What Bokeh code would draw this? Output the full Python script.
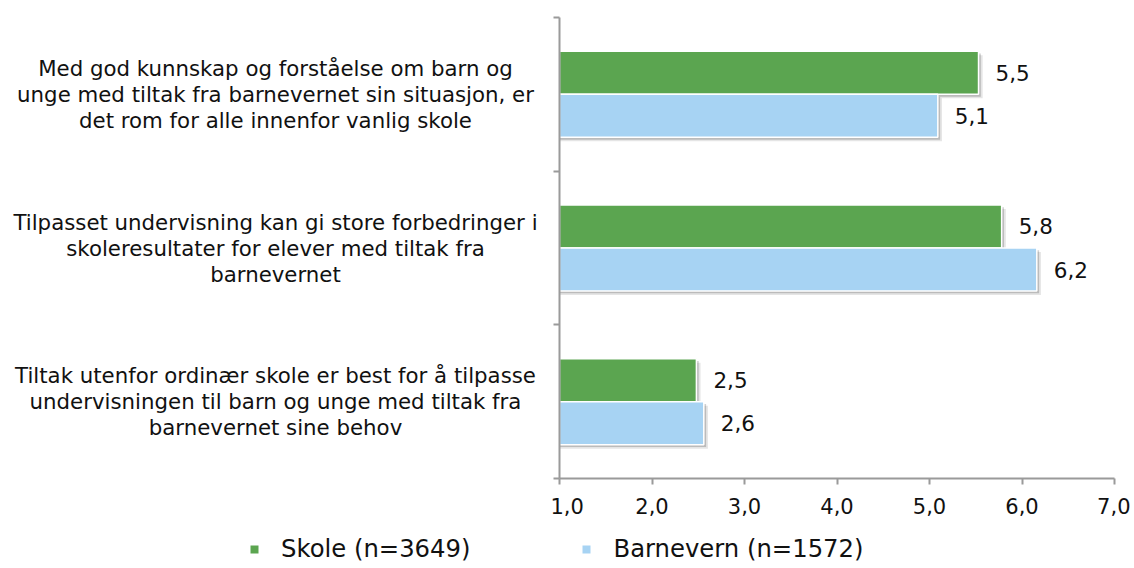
from bokeh.plotting import figure
from bokeh.layouts import row, column
from bokeh.models import (ColumnDataSource, FixedTicker, LabelSet, Legend, LegendItem, Range1d)
from bokeh.core.properties import value
from bokeh.embed import file_html
from bokeh.resources import INLINE

categories = [
    ["Med god kunnskap og forståelse om barn og",
     "unge med tiltak fra barnevernet sin situasjon, er",
     "det rom for alle innenfor vanlig skole"],
    ["Tilpasset undervisning kan gi store forbedringer i",
     "skoleresultater for elever med tiltak fra",
     "barnevernet"],
    ["Tiltak utenfor ordinær skole er best for å tilpasse",
     "undervisningen til barn og unge med tiltak fra",
     "barnevernet sine behov"],
]
skole = [5.53, 5.78, 2.48]
barnevern = [5.09, 6.16, 2.56]
series_names = ["Skole (n=3649)", "Barnevern (n=1572)"]
tick_values = [1, 2, 3, 4, 5, 6, 7]
tick_labels = ["1,0", "2,0", "3,0", "4,0", "5,0", "6,0", "7,0"]

GREEN = "#5BA550"
BLUE = "#A7D3F3"
AXIS = "#9A9A9A"
FONT = "DejaVu Sans"
TXT = "#111111"

W_TOTAL, H_TOTAL = 1130, 564
LW = 550            # width of left text panel
MW = W_TOTAL - LW   # width of main plot
TH = 524            # height of top row
LH = H_TOTAL - TH   # height of legend strip
TOP, BOTTOM = 17, 46

n = len(categories)
cat_y = [n - i - 0.5 for i in range(n)]
BH = 0.28
OFF = 0.14
yr = Range1d(0, n)

def fmt(v):
    return f"{v:.1f}".replace(".", ",")

def bare(fig):
    fig.outline_line_color = None
    fig.grid.grid_line_color = None
    fig.axis.visible = False
    fig.min_border = 0
    return fig

# ---- left panel with category texts ----
L = figure(width=LW, height=TH, output_backend="svg", toolbar_location=None,
           x_range=Range1d(0, LW), y_range=yr)
bare(L)
L.min_border_top = TOP
L.min_border_bottom = BOTTOM
xs, ys, ts, yo = [], [], [], []
for c, lines in zip(cat_y, categories):
    k = len(lines)
    for j, t in enumerate(lines):
        xs.append(275)
        ys.append(c)
        ts.append(t)
        yo.append((j - (k - 1) / 2) * 26)
L.text(x="x", y="y", text="t", y_offset="yo",
       source=ColumnDataSource(dict(x=xs, y=ys, t=ts, yo=yo)),
       text_align="center", text_baseline="middle",
       text_font=value(FONT), text_font_size=value("21.3px"), text_color=TXT)

# ---- main plot ----
src_s = ColumnDataSource(dict(y=[c + OFF for c in cat_y], right=skole,
                              lab=[fmt(v) for v in skole]))
src_b = ColumnDataSource(dict(y=[c - OFF for c in cat_y], right=barnevern,
                              lab=[fmt(v) for v in barnevern]))

p = figure(width=MW, height=TH, output_backend="svg", toolbar_location=None,
           x_range=Range1d(1, 7), y_range=yr)
p.min_border_left = 9
p.min_border_right = 16
p.min_border_top = TOP
p.min_border_bottom = BOTTOM
p.outline_line_color = None
p.grid.grid_line_color = None

for dx, dy, a in [(0.045, 0.026, 0.10), (0.025, 0.015, 0.18)]:
    p.hbar(y=[c + OFF - dy for c in cat_y], left=1, right=[v + dx for v in skole],
           height=BH, fill_color="black", fill_alpha=a, line_color=None)
    p.hbar(y=[c - OFF - dy for c in cat_y], left=1, right=[v + dx for v in barnevern],
           height=BH, fill_color="black", fill_alpha=a, line_color=None)

p.hbar(y="y", left=1, right="right", height=BH, source=src_s,
       fill_color=GREEN, line_color="white", line_width=1.5)
p.hbar(y="y", left=1, right="right", height=BH, source=src_b,
       fill_color=BLUE, line_color="white", line_width=1.5)

for src in (src_s, src_b):
    p.add_layout(LabelSet(x="right", y="y", text="lab", source=src, x_offset=17,
                          text_baseline="middle", text_align="left",
                          text_font=value(FONT), text_font_size=value("21.5px"),
                          text_color=TXT))

p.xaxis.ticker = FixedTicker(ticks=tick_values)
p.xaxis.major_label_overrides = {v: l for v, l in zip(tick_values, tick_labels)}
p.xaxis.major_label_text_font = FONT
p.xaxis.major_label_text_font_size = "21px"
p.xaxis.major_label_text_color = TXT
p.xaxis.major_label_standoff = 13
p.xaxis.major_tick_in = 0
p.xaxis.major_tick_out = 6
p.xaxis.minor_tick_line_color = None
p.xaxis.axis_line_color = AXIS
p.xaxis.major_tick_line_color = AXIS
p.xaxis.axis_line_width = 2
p.xaxis.major_tick_line_width = 2

p.yaxis.ticker = FixedTicker(ticks=list(range(n + 1)))
p.yaxis.major_label_overrides = {i: "" for i in range(n + 1)}
p.yaxis.major_label_standoff = 0
p.yaxis.major_tick_in = 0
p.yaxis.major_tick_out = 6
p.yaxis.minor_tick_line_color = None
p.yaxis.axis_line_color = AXIS
p.yaxis.major_tick_line_color = AXIS
p.yaxis.axis_line_width = 2
p.yaxis.major_tick_line_width = 2

# ---- legend strip ----
G = figure(width=W_TOTAL, height=LH, output_backend="svg", toolbar_location=None,
           x_range=Range1d(0, 1), y_range=Range1d(0, 1))
bare(G)
# legend-only renderers: their single bar lies far outside the strip's ranges
off_canvas = dict(y=[50], left=[40], right=[41])
g_s = G.hbar(y="y", left="left", right="right", height=0.1,
             source=ColumnDataSource(off_canvas), fill_color=GREEN, line_color=None)
g_b = G.hbar(y="y", left="left", right="right", height=0.1,
             source=ColumnDataSource(off_canvas), fill_color=BLUE, line_color=None)
legend = Legend(items=[LegendItem(label=series_names[0], renderers=[g_s]),
                       LegendItem(label=series_names[1], renderers=[g_b])],
                orientation="horizontal", location=(249, 1),
                glyph_width=10, glyph_height=10, label_standoff=22, spacing=111,
                label_text_font=FONT, label_text_font_size="24.3px",
                label_text_color=TXT, border_line_color=None,
                background_fill_alpha=0, padding=0, margin=0)
G.add_layout(legend, "center")

layout = column(row(L, p), G)
open("out.html", "w").write(file_html(layout, INLINE))
